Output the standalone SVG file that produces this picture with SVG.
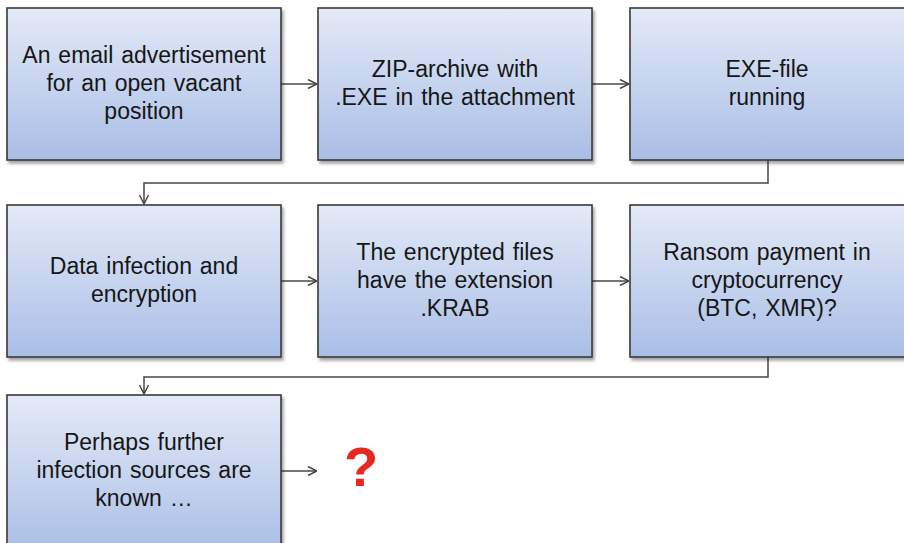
<svg xmlns="http://www.w3.org/2000/svg" width="904" height="543" viewBox="0 0 904 543">
  <defs>
    <linearGradient id="boxFill" x1="0" y1="0" x2="0" y2="1">
      <stop offset="0" stop-color="#e4eaf7"/>
      <stop offset="0.5" stop-color="#c6d4ef"/>
      <stop offset="1" stop-color="#a9bee6"/>
    </linearGradient>
    <filter id="shadow" x="-5%" y="-5%" width="115%" height="120%">
      <feGaussianBlur in="SourceAlpha" stdDeviation="1.5"/>
      <feOffset dx="1.5" dy="2.5" result="b"/>
      <feComponentTransfer><feFuncA type="linear" slope="0.35"/></feComponentTransfer>
      <feMerge><feMergeNode/><feMergeNode in="SourceGraphic"/></feMerge>
    </filter>
    <marker id="chev" viewBox="0 0 10 10" refX="10" refY="5" markerWidth="10" markerHeight="10" markerUnits="userSpaceOnUse" orient="auto">
      <path d="M1,0.5 L10,5 L1,9.5" fill="none" stroke="#404040" stroke-width="1.4"/>
    </marker>
  </defs>
  <style>
    .box { fill: url(#boxFill); stroke: #3a3a3a; stroke-width: 1.6; filter: url(#shadow); }
    .lbl { font-family: "Liberation Sans", Arial, sans-serif; font-size: 23px; fill: #161616; text-anchor: middle; word-spacing: 1.5px; }
    .conn { fill: none; stroke: #484848; stroke-width: 1.5; marker-end: url(#chev); }
    .q { font-family: "Liberation Sans", Arial, sans-serif; font-size: 56px; font-weight: bold; fill: #e42a20; text-anchor: middle; }
  </style>

  <rect width="904" height="543" fill="#ffffff"/>

  <g id="connectors">
    <path class="conn" d="M281,84 H317"/>
    <path class="conn" d="M592,84 H629"/>
    <path class="conn" d="M768,160 V183 H144 V204"/>
    <path class="conn" d="M281,281 H317"/>
    <path class="conn" d="M592,281 H629"/>
    <path class="conn" d="M768,357 V377 H144 V394"/>
    <path class="conn" d="M281,471 H317"/>
  </g>

  <g id="n1">
    <rect class="box" x="7" y="8" width="274" height="152"/>
    <text class="lbl" x="144" y="63">An email advertisement</text>
    <text class="lbl" x="144" y="91">for an open vacant</text>
    <text class="lbl" x="144" y="119">position</text>
  </g>
  <g id="n2">
    <rect class="box" x="318" y="8" width="274" height="152"/>
    <text class="lbl" x="455" y="77">ZIP-archive with</text>
    <text class="lbl" x="455" y="105">.EXE in the attachment</text>
  </g>
  <g id="n3">
    <rect class="box" x="630" y="8" width="280" height="152"/>
    <text class="lbl" x="767" y="77">EXE-file</text>
    <text class="lbl" x="767" y="105">running</text>
  </g>
  <g id="n4">
    <rect class="box" x="7" y="205" width="274" height="152"/>
    <text class="lbl" x="144" y="274">Data infection and</text>
    <text class="lbl" x="144" y="302">encryption</text>
  </g>
  <g id="n5">
    <rect class="box" x="318" y="205" width="274" height="152"/>
    <text class="lbl" x="455" y="260">The encrypted files</text>
    <text class="lbl" x="455" y="288">have the extension</text>
    <text class="lbl" x="455" y="316">.KRAB</text>
  </g>
  <g id="n6">
    <rect class="box" x="630" y="205" width="280" height="152"/>
    <text class="lbl" x="767" y="260">Ransom payment in</text>
    <text class="lbl" x="767" y="288">cryptocurrency</text>
    <text class="lbl" x="767" y="316">(BTC, XMR)?</text>
  </g>
  <g id="n7">
    <rect class="box" x="7" y="395" width="274" height="160"/>
    <text class="lbl" x="144" y="450">Perhaps further</text>
    <text class="lbl" x="144" y="478">infection sources are</text>
    <text class="lbl" x="144" y="506">known …</text>
  </g>
  <g id="unknown">
    <text class="q" x="361" y="486">?</text>
  </g>
</svg>
